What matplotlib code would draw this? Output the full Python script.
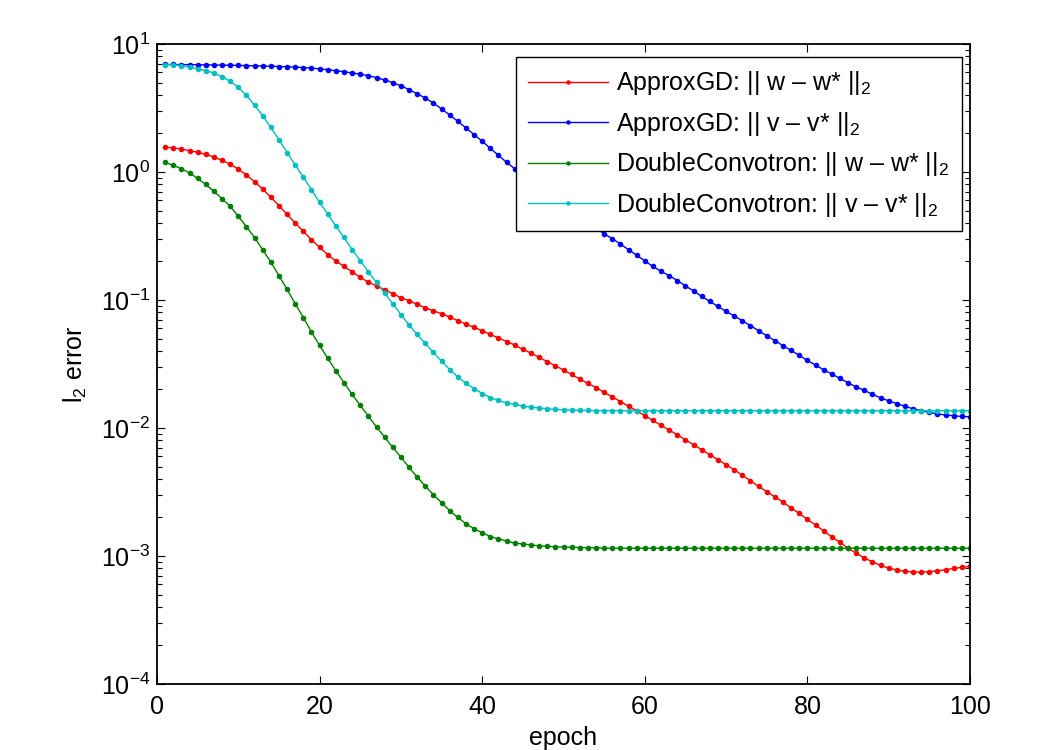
import matplotlib
matplotlib.use("Agg")
import matplotlib.pyplot as plt
from matplotlib.ticker import LogLocator, FixedLocator, NullFormatter, LogFormatterSciNotation

plt.rcParams['font.family'] = ['Liberation Sans', 'DejaVu Sans']
plt.rcParams['mathtext.fontset'] = 'custom'
plt.rcParams['mathtext.rm'] = 'Liberation Sans'
plt.rcParams['mathtext.it'] = 'Liberation Sans'
plt.rcParams['mathtext.default'] = 'regular'

epochs = list(range(1, 101))

approx_w = [1.567, 1.538, 1.514, 1.466, 1.426, 1.374, 1.309, 1.233, 1.153, 1.054,
            0.946, 0.839, 0.736, 0.634, 0.546, 0.467, 0.399, 0.344, 0.296, 0.258,
            0.226, 0.202, 0.183, 0.166, 0.150, 0.138, 0.129, 0.1205, 0.112, 0.1042,
            0.0989, 0.0923, 0.0871, 0.0822, 0.0782, 0.0736, 0.0689, 0.0649, 0.0611, 0.0575,
            0.0538, 0.0505, 0.0474, 0.0445, 0.0411, 0.0385, 0.0356, 0.0330, 0.0306, 0.0284,
            0.0262, 0.0241, 0.0223, 0.0207, 0.0190, 0.0175, 0.0161, 0.0148, 0.01365, 0.01247,
            0.01146, 0.01047, 0.00964, 0.00885, 0.00809, 0.00740, 0.00676, 0.00618, 0.00565, 0.00516,
            0.00472, 0.00427, 0.00387, 0.00350, 0.00318, 0.00290, 0.00264, 0.00237, 0.00215, 0.00193,
            0.00175, 0.00157, 0.00141, 0.00128, 0.00115, 0.001054, 0.000964, 0.000902, 0.000843, 0.000805,
            0.000776, 0.000759, 0.000748, 0.000748, 0.000753, 0.000767, 0.000782, 0.000800, 0.000815, 0.000830]

approx_v = [6.92, 6.92, 6.90, 6.90, 6.89, 6.87, 6.85, 6.84, 6.82, 6.81,
            6.78, 6.76, 6.73, 6.70, 6.67, 6.64, 6.61, 6.53, 6.49, 6.38,
            6.30, 6.18, 6.08, 5.93, 5.82, 5.65, 5.46, 5.24, 4.99, 4.72,
            4.40, 4.09, 3.78, 3.46, 3.11, 2.79, 2.49, 2.21, 1.96, 1.74,
            1.53, 1.35, 1.19, 1.06, 0.944, 0.841, 0.752, 0.673, 0.604, 0.543,
            0.490, 0.443, 0.401, 0.363, 0.330, 0.301, 0.274, 0.247, 0.224, 0.202,
            0.183, 0.1675, 0.155, 0.142, 0.129, 0.1175, 0.1067, 0.0975, 0.0891, 0.0815,
            0.0750, 0.0689, 0.0630, 0.0575, 0.0526, 0.0481, 0.0440, 0.0404, 0.0369, 0.0337,
            0.0310, 0.0285, 0.0264, 0.0244, 0.0226, 0.0209, 0.0197, 0.0183, 0.0172, 0.0163,
            0.0155, 0.0148, 0.0141, 0.01365, 0.01324, 0.01291, 0.01262, 0.01247, 0.01230, 0.01225]

dconv_w = [1.189, 1.127, 1.062, 0.982, 0.891, 0.800, 0.705, 0.619, 0.540, 0.451,
           0.374, 0.307, 0.247, 0.198, 0.155, 0.121, 0.0935, 0.0729, 0.0562, 0.0442,
           0.0350, 0.0280, 0.0226, 0.0183, 0.0150, 0.0124, 0.01016, 0.00849, 0.00705, 0.00593,
           0.00492, 0.00414, 0.00352, 0.00301, 0.00261, 0.00226, 0.00200, 0.00179, 0.00163, 0.00152,
           0.00142, 0.00136, 0.00131, 0.00126, 0.00124, 0.00122, 0.00120, 0.00119, 0.00118, 0.001175,
           0.00117, 0.001165, 0.00116, 0.00116, 0.00115, 0.00115, 0.00115, 0.00115, 0.00115, 0.00115,
           0.00115, 0.00115, 0.00115, 0.00115, 0.00115, 0.00115, 0.00115, 0.00115, 0.00115, 0.00115,
           0.00115, 0.00115, 0.00115, 0.00115, 0.00115, 0.00115, 0.00115, 0.00115, 0.00115, 0.00115,
           0.00115, 0.00115, 0.00115, 0.00115, 0.00115, 0.00115, 0.00115, 0.00115, 0.00115, 0.00115,
           0.00115, 0.00115, 0.00115, 0.00115, 0.00115, 0.00115, 0.00115, 0.00115, 0.00115, 0.00115]

dconv_v = [6.89, 6.89, 6.76, 6.61, 6.41, 6.18, 5.93, 5.55, 5.11, 4.58,
           3.97, 3.33, 2.75, 2.23, 1.79, 1.42, 1.135, 0.908, 0.728, 0.579,
           0.470, 0.378, 0.308, 0.248, 0.203, 0.166, 0.137, 0.113, 0.0935, 0.0769,
           0.0637, 0.0538, 0.0458, 0.0389, 0.0333, 0.0286, 0.0251, 0.0223, 0.0203, 0.0186,
           0.0173, 0.0164, 0.0157, 0.0153, 0.0148, 0.01455, 0.01432, 0.01413, 0.01396, 0.0139,
           0.0138, 0.01374, 0.01371, 0.01368, 0.01365, 0.01365, 0.01365, 0.01365, 0.01365, 0.01365,
           0.01365, 0.01365, 0.01365, 0.01365, 0.01365, 0.01365, 0.01365, 0.01365, 0.01365, 0.01365,
           0.01365, 0.01365, 0.01365, 0.01365, 0.01365, 0.01365, 0.01365, 0.01365, 0.01365, 0.01365,
           0.01365, 0.01365, 0.01365, 0.01365, 0.01365, 0.01365, 0.01365, 0.01365, 0.01365, 0.01365,
           0.01365, 0.01365, 0.01365, 0.01365, 0.01365, 0.01365, 0.01365, 0.01365, 0.01365, 0.01365]

labels = ['ApproxGD: || w \u2013 w* ||$_2$',
          'ApproxGD: || v \u2013 v* ||$_2$',
          'DoubleConvotron: || w \u2013 w* ||$_2$',
          'DoubleConvotron: || v \u2013 v* ||$_2$']
colors = ['#ff0000', '#0000ff', '#008000', '#00bfbf']
series = [approx_w, approx_v, dconv_w, dconv_v]

xticks = [0, 20, 40, 60, 80, 100]
FS = 18

fig = plt.figure(figsize=(10.52, 7.5), dpi=100)
ax = fig.add_axes([157/1052, 1 - 684/750, 813/1052, 640/750])

for ys, c, lab in zip(series, colors, labels):
    ax.plot(epochs, ys, color=c, lw=1.0, marker='o', ms=4.0, mew=0, label=lab)

ax.set_yscale('log')
ax.set_xlim(0, 100)
ax.set_ylim(1e-4, 1e1)
ax.xaxis.set_major_locator(FixedLocator(xticks))
ax.yaxis.set_major_locator(LogLocator(base=10, numticks=10))
ax.yaxis.set_minor_locator(LogLocator(base=10, subs=range(2, 10), numticks=20))
ax.yaxis.set_minor_formatter(NullFormatter())
ax.yaxis.set_major_formatter(LogFormatterSciNotation())

for s in ax.spines.values():
    s.set_linewidth(1.3)
ax.tick_params(axis='both', which='both', direction='in', top=True, right=True,
               labelsize=FS, colors='black')
ax.tick_params(axis='both', which='major', length=6, width=0.8)
ax.tick_params(axis='y', which='minor', length=3.5, width=0.8)
ax.tick_params(axis='x', which='major', pad=8)
ax.tick_params(axis='y', which='major', pad=5)

ax.set_xlabel('epoch', fontsize=FS, labelpad=5)
ax.set_ylabel('l$_2$ error', fontsize=FS, labelpad=8)

leg = ax.legend(loc='upper right', bbox_to_anchor=(0.990, 0.980), fontsize=FS,
                frameon=True, fancybox=False, framealpha=1, edgecolor='black',
                handlelength=3.2, handletextpad=0.32, labelspacing=0.5,
                borderpad=0.5, borderaxespad=0.0, markerscale=0.8)
leg.get_frame().set_linewidth(1.0)

fig.savefig('out.png', dpi=100)
